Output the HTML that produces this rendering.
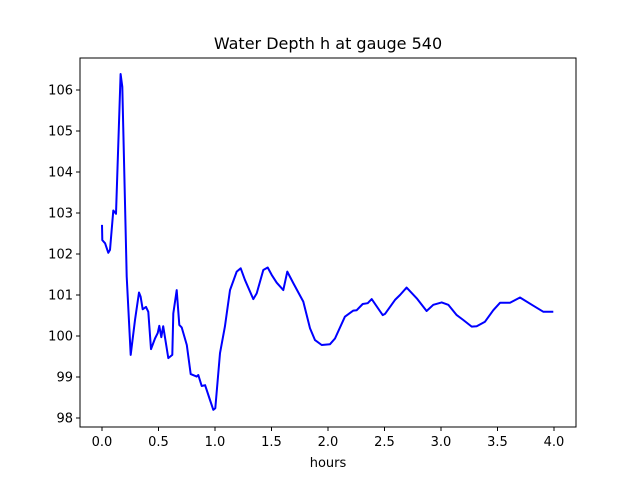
<!DOCTYPE html>
<html><head><meta charset="utf-8"><style>
body{margin:0;background:#fff;}
svg text{font-family:"DejaVu Sans","Liberation Sans",sans-serif;fill:#000;}
</style></head><body>
<svg id="chart" width="640" height="480" xmlns="http://www.w3.org/2000/svg">
<rect width="640" height="480" fill="#fff"/>
<text x="328" y="49" font-size="16" text-anchor="middle">Water Depth h at gauge 540</text>
<g id="plot"></g>
<rect x="80" y="58" width="496" height="369" fill="none" stroke="#000" stroke-width="1"/>
<text x="328" y="467" font-size="13" text-anchor="middle">hours</text>
</svg>
<script>
const hours=[0,0.003,0.027,0.056,0.071,0.1,0.124,0.165,0.18,0.219,0.254,0.292,0.327,0.342,0.36,0.389,0.41,0.434,0.469,0.493,0.507,0.525,0.542,0.587,0.622,0.631,0.661,0.684,0.705,0.75,0.785,0.838,0.852,0.882,0.912,0.956,0.985,1.003,1.044,1.088,1.133,1.192,1.227,1.265,1.339,1.369,1.427,1.466,1.502,1.546,1.604,1.64,1.693,1.781,1.841,1.885,1.944,2.018,2.062,2.15,2.224,2.254,2.307,2.351,2.387,2.484,2.504,2.593,2.637,2.696,2.785,2.873,2.932,3.006,3.065,3.139,3.197,3.272,3.316,3.389,3.463,3.522,3.611,3.699,3.817,3.906,3.994];
const depth=[102.71,102.34,102.26,102.03,102.1,103.06,102.98,106.39,106.08,101.45,99.54,100.39,101.06,100.96,100.65,100.71,100.59,99.68,99.94,100.07,100.25,99.97,100.24,99.46,99.54,100.55,101.12,100.27,100.21,99.78,99.07,99.01,99.05,98.78,98.8,98.44,98.2,98.24,99.58,100.23,101.12,101.57,101.65,101.37,100.9,101.04,101.61,101.67,101.49,101.3,101.12,101.57,101.29,100.84,100.19,99.9,99.78,99.8,99.94,100.47,100.62,100.63,100.78,100.8,100.9,100.51,100.54,100.88,101.0,101.18,100.92,100.61,100.76,100.82,100.76,100.51,100.39,100.23,100.24,100.35,100.63,100.81,100.81,100.94,100.74,100.59,100.59];
const xTicks=[0,0.5,1.0,1.5,2.0,2.5,3.0,3.5,4.0];
const xTickLabels=["0.0","0.5","1.0","1.5","2.0","2.5","3.0","3.5","4.0"];
const yTicks=[98,99,100,101,102,103,104,105,106];
const yTickLabels=["98","99","100","101","102","103","104","105","106"];
const sx=t=>102+t*113;
const sy=h=>418-(h-98)*41;
const NS="http://www.w3.org/2000/svg";
const g=document.getElementById('plot');
xTicks.forEach((t,i)=>{
  const l=document.createElementNS(NS,'line');
  
  
  l.setAttribute('x1',sx(t));l.setAttribute('x2',sx(t));l.setAttribute('y1',427);l.setAttribute('y2',431);l.setAttribute('stroke','#000');
  g.appendChild(l);
  const tx=document.createElementNS(NS,'text');
  
  
  tx.setAttribute('x',sx(t));tx.setAttribute('y',446);tx.setAttribute('font-size','13');tx.setAttribute('text-anchor','middle');
  tx.textContent=xTickLabels[i];g.appendChild(tx);
});
yTicks.forEach((v,i)=>{
  const l=document.createElementNS(NS,'line');
  
  
  l.setAttribute('x1',76);l.setAttribute('x2',80);l.setAttribute('y1',sy(v));l.setAttribute('y2',sy(v));l.setAttribute('stroke','#000');
  g.appendChild(l);
  const tx=document.createElementNS(NS,'text');
  
  
  tx.setAttribute('x',73);tx.setAttribute('y',sy(v)+4.5);tx.setAttribute('font-size','13');tx.setAttribute('text-anchor','end');
  tx.textContent=yTickLabels[i];g.appendChild(tx);
});
const p=document.createElementNS(NS,'polyline');


p.setAttribute('points',hours.map((t,i)=>sx(t).toFixed(1)+','+sy(depth[i]).toFixed(1)).join(' '));
p.setAttribute('fill','none');p.setAttribute('stroke','#0000ff');p.setAttribute('stroke-width','2');p.setAttribute('stroke-linejoin','round');
g.appendChild(p);
</script>
</body></html>
